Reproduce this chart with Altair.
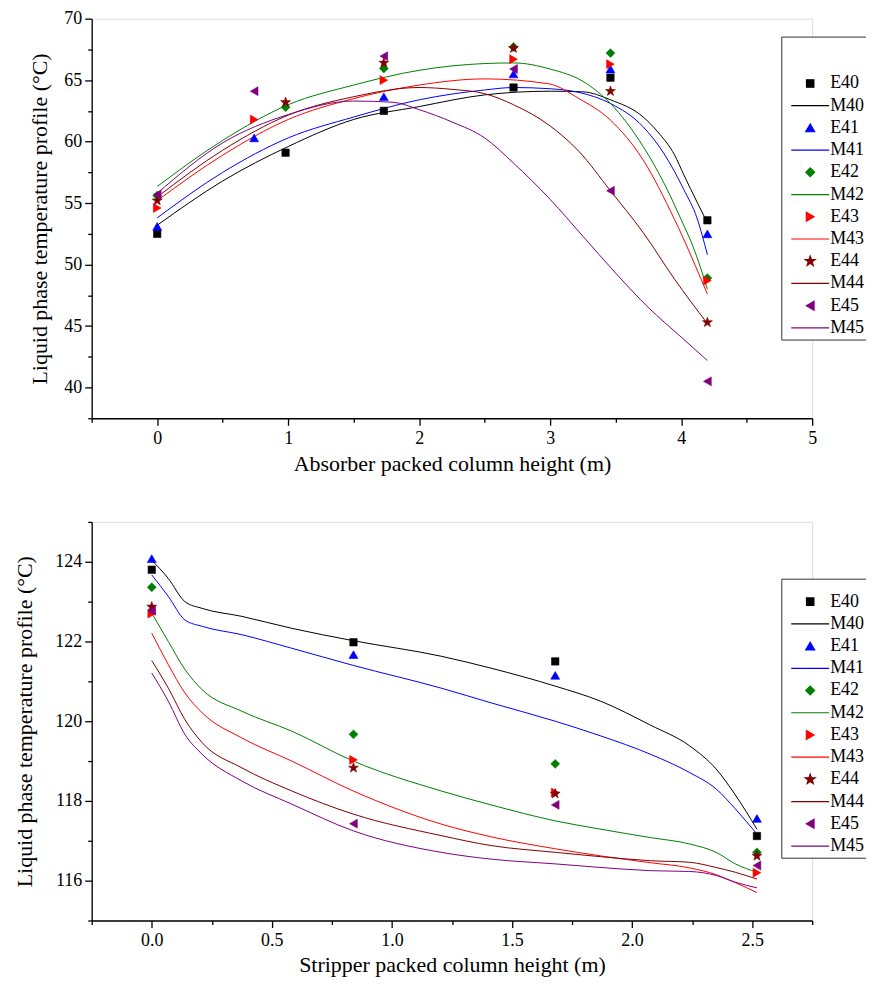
import altair as alt
import pandas as pd

FONT = "Liberation Serif"

SERIES = ["E40", "M40", "E41", "M41", "E42", "M42", "E43", "M43", "E44", "M44", "E45", "M45"]
COLORS = ["#000000", "#000000", "#0000FF", "#0000FF", "#008000", "#008000",
          "#FF0000", "#FF0000", "#800000", "#800000", "#800080", "#800080"]
STAR = ("M0,-1L0.235,-0.324L0.951,-0.309L0.38,0.124L0.588,0.809L0,0.4"
        "L-0.588,0.809L-0.38,0.124L-0.951,-0.309L-0.235,-0.324Z")
SHAPES = ["square", "stroke", "triangle-up", "stroke", "diamond", "stroke",
          "triangle-right", "stroke", STAR, "stroke", "triangle-left", "stroke"]
SIZES = [55, 1444, 80, 1444, 80, 1444, 80, 1444, 110, 1444, 80, 1444]

# ---------------- Absorber (top) ----------------
a_e40_x = [0, 0.98, 1.73, 2.72, 3.46, 4.2]
a_e40_y = [52.5, 59.1, 62.5, 64.4, 65.2, 53.6]
a_e41_x = [0, 0.74, 1.73, 2.72, 3.46, 4.2]
a_e41_y = [53.1, 60.3, 63.65, 65.5, 65.9, 52.5]
a_e42_x = [0, 0.98, 1.73, 2.72, 3.46, 4.2]
a_e42_y = [55.6, 62.8, 65.95, 67.7, 67.2, 48.9]
a_e43_x = [0, 0.74, 1.73, 2.72, 3.46, 4.2]
a_e43_y = [54.6, 61.8, 65.0, 66.7, 66.3, 48.7]
a_e44_x = [0, 0.98, 1.73, 2.72, 3.46, 4.2]
a_e44_y = [55.2, 63.2, 66.4, 67.6, 64.1, 45.3]
a_e45_x = [0, 0.74, 1.73, 2.72, 3.46, 4.2]
a_e45_y = [55.7, 64.1, 66.95, 65.9, 56.0, 40.5]

a_m40_x = [0, 0.5, 1.0, 1.5, 2.0, 2.5, 3.0, 3.25, 3.46, 3.71, 3.82, 3.95, 4.02, 4.12, 4.2]
a_m40_y = [53.2, 56.8, 59.6, 61.8, 62.85, 63.8, 64.1, 64.05, 63.4, 62.0, 60.8, 58.9, 57.3, 55.1, 53.4]
a_m41_x = [0, 0.5, 1.0, 1.5, 2.0, 2.5, 2.72, 3.0, 3.22, 3.46, 3.71, 3.87, 4.02, 4.12, 4.2]
a_m41_y = [53.8, 57.5, 60.3, 62.0, 63.4, 64.2, 64.4, 64.3, 64.0, 63.1, 61.2, 59.0, 56.1, 53.8, 50.8]
a_m42_x = [0, 0.5, 1.0, 1.5, 2.0, 2.5, 2.72, 3.0, 3.25, 3.46, 3.71, 3.87, 4.0, 4.1, 4.2]
a_m42_y = [56.35, 60.1, 63.0, 64.6, 65.8, 66.35, 66.4, 65.9, 64.9, 63.1, 59.6, 56.6, 53.65, 51.2, 48.0]
a_m43_x = [0, 0.5, 1.0, 1.5, 2.0, 2.5, 2.99, 3.22, 3.46, 3.71, 3.95, 4.2]
a_m43_y = [55.2, 58.9, 61.8, 63.5, 64.6, 65.1, 64.7, 63.5, 61.75, 58.5, 53.65, 47.6]
a_m44_x = [0, 0.5, 1.0, 1.5, 2.0, 2.25, 2.5, 2.72, 2.99, 3.22, 3.46, 3.71, 3.95, 4.2]
a_m44_y = [55.5, 59.3, 62.15, 63.65, 64.4, 64.25, 63.9, 63.0, 61.35, 59.2, 56.0, 52.6, 48.8, 45.2]
a_m45_x = [0, 0.5, 1.0, 1.5, 1.8, 2.0, 2.25, 2.5, 2.72, 3.0, 3.25, 3.5, 3.75, 4.0, 4.2]
a_m45_y = [55.8, 59.9, 62.2, 63.3, 63.2, 62.6, 61.6, 60.3, 58.25, 55.3, 52.3, 49.3, 46.5, 44.1, 42.2]

# ---------------- Stripper (bottom) ----------------
s_e_x = [0, 0.84, 1.68, 2.52]
s_e40_y = [123.8, 121.98, 121.5, 117.12]
s_e41_y = [124.08, 121.67, 121.15, 117.56]
s_e42_y = [123.36, 119.67, 118.93, 116.71]
s_e43_y = [122.7, 119.03, 118.21, 116.2]
s_e44_y = [122.87, 118.83, 118.18, 116.62]
s_e45_y = [122.77, 117.43, 117.9, 116.38]

s_m_x = [0, 0.069, 0.138, 0.21, 0.375, 0.583, 0.839, 1.205, 1.413, 1.68, 1.87, 2.077, 2.24, 2.35, 2.43, 2.52]
s_m40_y = [124.04, 123.58, 123.0, 122.83, 122.63, 122.33, 122.02, 121.63, 121.33, 120.88, 120.5, 119.9, 119.38, 118.8, 118.15, 117.29]
s_m41_y = [123.67, 123.13, 122.54, 122.38, 122.17, 121.83, 121.4, 120.83, 120.46, 120.0, 119.63, 119.17, 118.71, 118.3, 117.8, 117.17]
s_m42_y = [122.71, 122.0, 121.3, 120.79, 120.25, 119.75, 119.0, 118.25, 117.9, 117.5, 117.29, 117.08, 116.92, 116.71, 116.42, 116.21]
s_m43_y = [122.21, 121.42, 120.71, 120.21, 119.58, 119.0, 118.25, 117.42, 117.1, 116.8, 116.62, 116.45, 116.32, 116.15, 115.95, 115.7]
s_m44_y = [121.52, 120.83, 120.04, 119.46, 118.83, 118.25, 117.67, 117.13, 116.88, 116.71, 116.6, 116.5, 116.46, 116.33, 116.21, 116.04]
s_m45_y = [121.21, 120.5, 119.67, 119.17, 118.5, 117.92, 117.25, 116.71, 116.54, 116.42, 116.33, 116.25, 116.23, 116.13, 115.96, 115.82]


def frame(names, xs_list, ys_list):
    rows = []
    for n, xs, ys in zip(names, xs_list, ys_list):
        for x, y in zip(xs, ys):
            rows.append({"series": n, "x": x, "y": y})
    return pd.DataFrame(rows)


top_exp = frame(["E40", "E41", "E42", "E43", "E44", "E45"],
                [a_e40_x, a_e41_x, a_e42_x, a_e43_x, a_e44_x, a_e45_x],
                [a_e40_y, a_e41_y, a_e42_y, a_e43_y, a_e44_y, a_e45_y])
top_mod = frame(["M40", "M41", "M42", "M43", "M44", "M45"],
                [a_m40_x, a_m41_x, a_m42_x, a_m43_x, a_m44_x, a_m45_x],
                [a_m40_y, a_m41_y, a_m42_y, a_m43_y, a_m44_y, a_m45_y])
bot_exp = frame(["E40", "E41", "E42", "E43", "E44", "E45"],
                [s_e_x] * 6,
                [s_e40_y, s_e41_y, s_e42_y, s_e43_y, s_e44_y, s_e45_y])
bot_mod = frame(["M40", "M41", "M42", "M43", "M44", "M45"],
                [s_m_x] * 6,
                [s_m40_y, s_m41_y, s_m42_y, s_m43_y, s_m44_y, s_m45_y])


def frange(a, b, step):
    n = int(round((b - a) / step))
    return [round(a + i * step, 4) for i in range(n + 1)]


def axis(title, values, major_test, fmt, lpad, tpad):
    return alt.Axis(
        title=title, values=values,
        labelExpr=f"({major_test}) ? format(datum.value, '{fmt}') : ''",
        tickSize={"condition": {"test": major_test, "value": 7}, "value": 4},
        grid=False, domainColor="black", tickColor="black",
        domainWidth=1.3, tickWidth=1.3,
        labelFont=FONT, labelFontSize=18, labelColor="black",
        titleFont=FONT, titleFontSize=22, titleFontWeight="normal", titleColor="black",
        labelFlush=False, labelOverlap=False, labelPadding=lpad, titlePadding=tpad)


def panel(exp, mod, xdom, xstep, xmajor, xfmt, xtitle, x_lpad, x_tpad,
          ydom, ystep, ymajor, yfmt, y_tpad, w, h, lx, ly, ttl_size, ttl_pad):
    legend = alt.Legend(
        orient="none", legendX=lx, legendY=ly, title=" ",
        titleFontSize=ttl_size, titlePadding=ttl_pad,
        labelFont=FONT, labelFontSize=18, labelColor="black",
        strokeColor="#333333", padding=2, rowPadding=4.3, clipHeight=18,
        symbolOffset=7, labelOffset=0, symbolStrokeWidth=1.2, fillColor="white")
    x = alt.X("x:Q", scale=alt.Scale(domain=xdom, nice=False, zero=False),
              axis=axis(xtitle, frange(xdom[0], xdom[1], xstep), xmajor, xfmt, x_lpad, x_tpad))
    y = alt.Y("y:Q", scale=alt.Scale(domain=ydom, nice=False, zero=False),
              axis=axis("Liquid phase temperature profile (°C)",
                        frange(ydom[0], ydom[1], ystep), ymajor, yfmt, 3, y_tpad))
    col_scale = alt.Scale(domain=SERIES, range=COLORS)
    lines = alt.Chart(mod).mark_line(strokeWidth=1, interpolate="monotone").encode(
        x=x, y=y,
        stroke=alt.Stroke("series:N", scale=col_scale, legend=legend),
    )
    pts = alt.Chart(exp).mark_point(filled=True, opacity=1, strokeWidth=0.6).encode(
        x=x, y=y,
        fill=alt.Fill("series:N", scale=col_scale, legend=legend),
        stroke=alt.Stroke("series:N", scale=col_scale, legend=legend),
        shape=alt.Shape("series:N", scale=alt.Scale(domain=SERIES, range=SHAPES), legend=legend),
        size=alt.Size("series:N", scale=alt.Scale(type="ordinal", domain=SERIES, range=SIZES),
                      legend=legend),
    )
    return alt.layer(lines, pts).properties(width=w, height=h)


top = panel(top_exp, top_mod, [-0.5, 5], 0.5, "datum.value % 1 === 0", "d",
            "Absorber packed column height (m)", 4, 6,
            [37.5, 70], 2.5, "datum.value % 5 === 0", "d", 12,
            723, 401, 692, 18, 18, 18)
bot = panel(bot_exp, bot_mod, [-0.25, 2.75], 0.25, "datum.value % 0.5 === 0", ".1f",
            "Stripper packed column height (m)", 4, 5,
            [115, 125], 1, "datum.value % 2 === 0", "d", 18,
            723, 400, 692, 57, 6, 6)

chart = alt.vconcat(top, bot, spacing=37).resolve_scale(
    fill="independent", stroke="independent", shape="independent", size="independent",
    x="independent", y="independent"
).resolve_legend(
    fill="independent", stroke="independent", shape="independent", size="independent"
).properties(
    padding={"left": 5, "top": -1, "right": -2, "bottom": 0}
).configure_view(stroke=None).configure(background="white")

chart.save("out.html", embed_options={"renderer": "svg", "actions": False})
